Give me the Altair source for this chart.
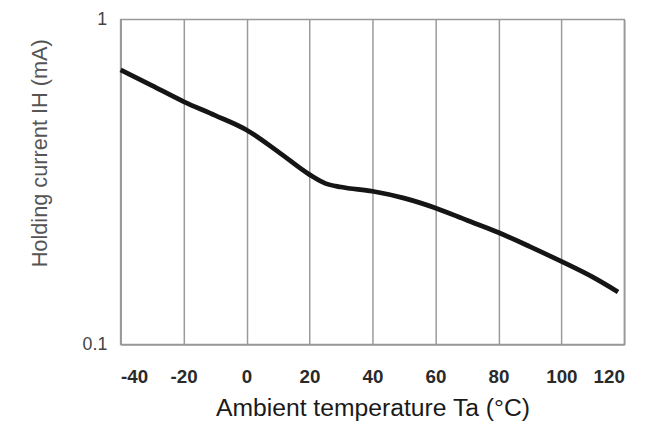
import altair as alt
import pandas as pd

# Ambient temperature (°C) and holding current IH (mA)
temps = [-40, -30, -20, -10, 0, 10, 20, 25, 30, 40, 50, 60, 70, 80, 90, 100, 110, 118]
ih = [0.70, 0.626, 0.559, 0.507, 0.457, 0.392, 0.333, 0.313, 0.305, 0.296,
      0.282, 0.263, 0.241, 0.221, 0.200, 0.180, 0.161, 0.145]
x_ticks = [-40, -20, 0, 20, 40, 60, 80, 100, 120]
y_ticks = [0.1, 1]

df = pd.DataFrame({"Ta": temps, "IH": ih})

FONT = "Liberation Sans"

chart = (
    alt.Chart(df)
    .mark_line(color="#151515", strokeWidth=4.8, interpolate="monotone")
    .encode(
        x=alt.X(
            "Ta:Q",
            scale=alt.Scale(domain=[-40, 120], nice=False, zero=False),
            axis=alt.Axis(
                values=x_ticks,
                labelExpr="datum.value + ''",
                title="Ambient temperature Ta (°C)",
                grid=True,
                gridColor="#9a9a9a",
                gridWidth=1.5,
                gridOpacity=1,
                ticks=False,
                domainColor="#999999",
                domainWidth=1.5,
                labelFont=FONT,
                labelFontSize=19,
                labelFontWeight="bold",
                labelColor="#2a2a2a",
                labelPadding=24,
                titleFont=FONT,
                titleFontSize=25,
                titleFontWeight="normal",
                titleColor="#1a1a1a",
                titleBaseline="middle",
                titleY=64,
            ),
        ),
        y=alt.Y(
            "IH:Q",
            scale=alt.Scale(type="log", domain=[0.1, 1], nice=False),
            axis=alt.Axis(
                values=y_ticks,
                format="~g",
                title="Holding current IH (mA)",
                grid=False,
                ticks=False,
                domainColor="#999999",
                domainWidth=1.5,
                labelFont=FONT,
                labelFontSize=18,
                labelColor="#444444",
                labelPadding=14,
                titleFont=FONT,
                titleFontSize=22,
                titleFontWeight="normal",
                titleColor="#555555",
                titleBaseline="middle",
                titleX=-82,
                titleY=135,
            ),
        ),
    )
    .properties(
        width=510,
        height=329,
        padding={"left": 114, "top": 9, "right": 27, "bottom": 78},
        autosize=alt.AutoSizeParams(type="none"),
    )
    .configure_view(stroke="#999999", strokeWidth=1.5)
)

chart.save("out.html", embed_options={"renderer": "svg", "actions": False})
